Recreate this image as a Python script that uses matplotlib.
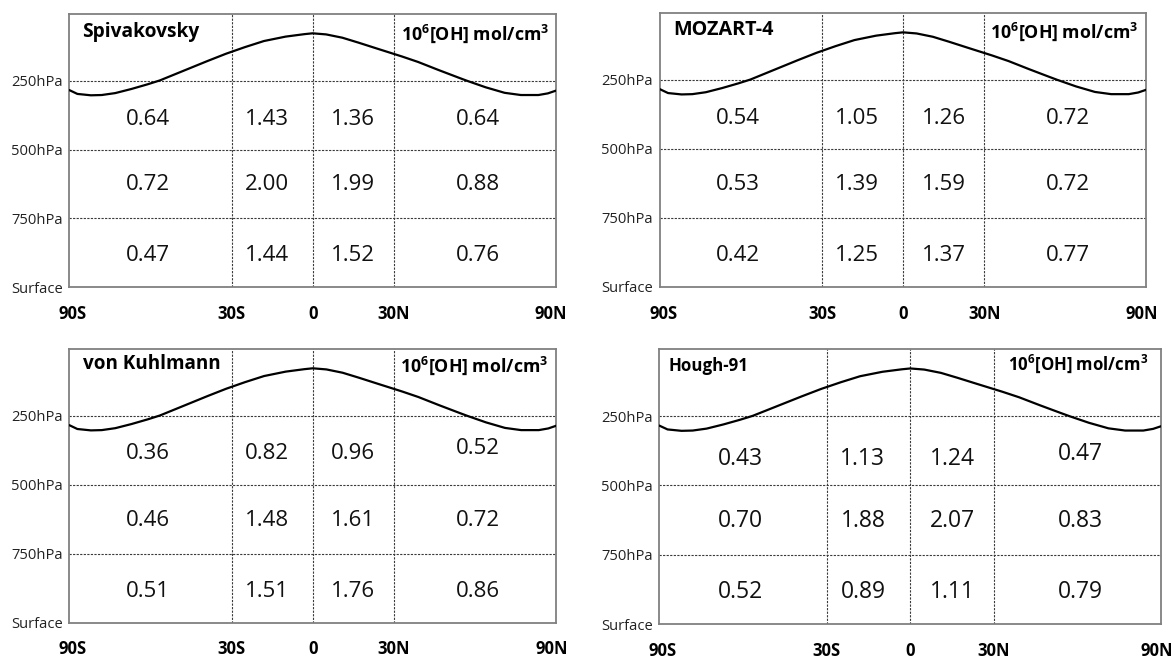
import matplotlib
matplotlib.use("Agg")
import matplotlib.pyplot as plt
from matplotlib.transforms import ScaledTranslation

plt.rcParams["font.family"] = ["Open Sans", "DejaVu Sans"]
plt.rcParams["mathtext.fontset"] = "custom"
plt.rcParams["mathtext.rm"] = "Open Sans"
plt.rcParams["mathtext.bf"] = "Open Sans:bold"

# ---------------- data ----------------
models = ["Spivakovsky", "MOZART-4", "von Kuhlmann", "Hough-91"]
unit_label = r"10$^{\mathbf{6}}$[OH] mol/cm$^{\mathbf{3}}$"

lat_ticks = [-90, -30, 0, 30, 90]
lat_labels = ["90S", "30S", "0", "30N", "90N"]
lat_bounds = [-30, 0, 30]
p_ticks = [250, 500, 750, 1000]
p_labels = ["250hPa", "500hPa", "750hPa", "Surface"]
p_bounds = [250, 500, 750]

col_lat = [-61, -17, 15, 61]
row_p = [390, 628, 886]

# rows: 250-500, 500-750, 750-surface ; cols: 90S-30S, 30S-0, 0-30N, 30N-90N
oh_spivakovsky = [[0.64, 1.43, 1.36, 0.64],
                  [0.72, 2.00, 1.99, 0.88],
                  [0.47, 1.44, 1.52, 0.76]]
oh_mozart4 = [[0.54, 1.05, 1.26, 0.72],
              [0.53, 1.39, 1.59, 0.72],
              [0.42, 1.25, 1.37, 0.77]]
oh_vonkuhlmann = [[0.36, 0.82, 0.96, 0.52],
                  [0.46, 1.48, 1.61, 0.72],
                  [0.51, 1.51, 1.76, 0.86]]
oh_hough91 = [[0.43, 1.13, 1.24, 0.47],
              [0.70, 1.88, 2.07, 0.83],
              [0.52, 0.89, 1.11, 0.79]]
tables = [oh_spivakovsky, oh_mozart4, oh_vonkuhlmann, oh_hough91]

# tropopause line (latitude, hPa)
tropo_lat = [-90, -87, -82, -78, -73, -67, -61, -56.5, -51, -45, -39, -32, -25,
             -18, -10, -3, 0, 5, 11, 17, 24, 33, 39, 46.5, 54, 57, 64, 71, 77,
             83.5, 87, 90]
tropo_p = [284, 298, 303, 302, 295, 280, 263, 249, 227, 203, 179, 152, 128,
           106, 90, 81, 78, 82, 94, 112, 134, 162, 182, 211, 239, 250, 274, 294,
           302, 302, 296, 286]

# ---------------- layout ----------------
W, H = 1174, 659
fig = plt.figure(figsize=(W / 100, H / 100), dpi=100)

rects = [
    [0.0590, 0.5640, 0.4146, 0.4143],
    [0.5621, 0.5649, 0.4143, 0.4149],
    [0.0590, 0.0551, 0.4149, 0.4149],
    [0.5615, 0.0531, 0.4278, 0.4168],
]
title_off = [(12.4, 22.4), (12.9, 21.7), (13.4, 19.5), (9.1, 21.4)]
title_size = [13.8, 14.2, 13.6, 12.2]
unit_off = [(7, 25.5), (7.6, 25), (8, 22.4), (13, 20.7)]
unit_size = [12.8, 12.8, 12.8, 12.1]
xpad = [12.8, 12.8, 12.8, 12.6]
num_size = [16, 16, 16, 16.5]
# small vertical nudges (hPa) for individual numbers that sit off-centre
row1_shift = [[0, 0, 0, 0], [0, 0, 0, 0], [-5, -5, -5, -20], [15, 15, 15, -2]]
edge_label_dx = [3.5, -5.0]  # px shift of the 90S / 90N labels

grid_kw = dict(color="#3a3a3a", lw=0.8, ls=(0, (2, 1.2)), zorder=1)

for i, ax_rect in enumerate(rects):
    ax = fig.add_axes(ax_rect)
    ax.set_xlim(-90, 90)
    ax.set_ylim(1000, 9)
    for x in lat_bounds:
        ax.axvline(x, **grid_kw)
    for p in p_bounds:
        ax.axhline(p, **grid_kw)
    ax.plot(tropo_lat, tropo_p, color="black", lw=1.6, zorder=3,
            solid_capstyle="round", solid_joinstyle="round")

    ax.set_xticks(lat_ticks)
    ax.set_xticklabels(lat_labels, fontsize=12, fontweight="bold")
    ax.set_yticks(p_ticks)
    ax.set_yticklabels(p_labels, fontsize=10.6, color="#222222")
    ax.tick_params(length=0)
    ax.tick_params(axis="x", pad=xpad[i])
    ax.tick_params(axis="y", pad=4.8)
    xl = ax.get_xticklabels()
    for lab, dxp in zip([xl[0], xl[-1]], edge_label_dx):
        lab.set_transform(lab.get_transform() +
                          ScaledTranslation(dxp / 100, 0, fig.dpi_scale_trans))
    for s in ax.spines.values():
        s.set_color("#808080")
        s.set_linewidth(1.3)

    tab = tables[i]
    for r, row in enumerate(tab):
        for c, v in enumerate(row):
            yp = row_p[r] + (row1_shift[i][c] if r == 0 else 0)
            ax.text(col_lat[c], yp, f"{v:.2f}", ha="center", va="center",
                    fontsize=num_size[i], color="#111111", zorder=4)

    dx, dy = title_off[i]
    ax.annotate(models[i], xy=(0, 1), xycoords="axes fraction",
                xytext=(dx * 0.72, -dy * 0.72), textcoords="offset points",
                ha="left", va="baseline", fontsize=title_size[i],
                fontweight="bold", zorder=5)
    ux, uy = unit_off[i]
    ax.annotate(unit_label, xy=(1, 1), xycoords="axes fraction",
                xytext=(-ux * 0.72, -uy * 0.72), textcoords="offset points",
                ha="right", va="baseline", fontsize=unit_size[i],
                fontweight="bold", zorder=5)

fig.savefig("out.png", dpi=100, facecolor="white")
